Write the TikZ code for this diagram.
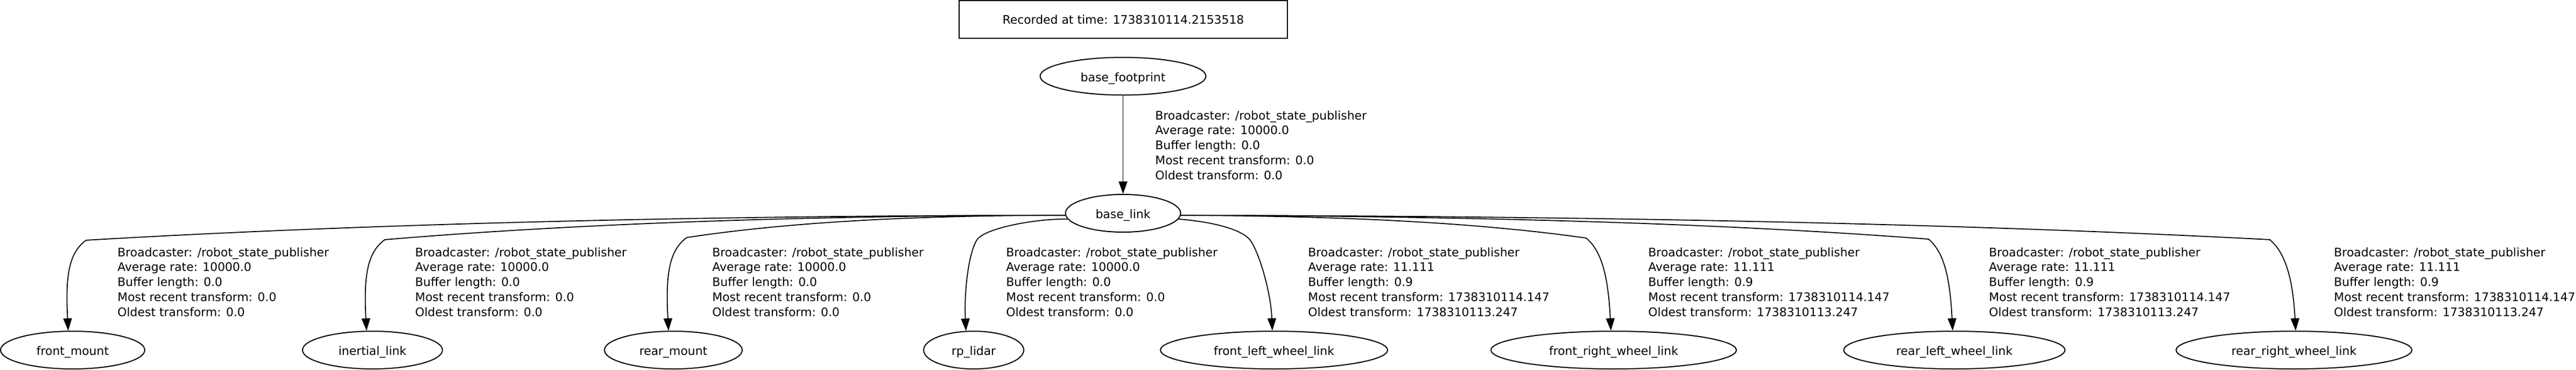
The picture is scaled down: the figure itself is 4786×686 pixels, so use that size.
\documentclass[tikz,border=0pt]{standalone}
\usepackage{fontspec}
\setmainfont{DejaVu Sans}
\usetikzlibrary{shapes}
\usetikzlibrary{arrows.meta}
\tikzset{
	node_tf/.style = {
		ellipse,
		draw=black,
		line width=1pt,
		inner sep=0pt,
		minimum height=35pt,
		text height=10.5pt,
		text depth=1pt
	},
	node_stamp/.style = {
		rectangle,
		draw=black,
		line width=1pt,
		inner sep=0pt,
		minimum width=305pt,
		minimum height=35pt,
		text height=9.3pt,
		text depth=1pt
	},
	node_info/.style = {
		align=left,
		inner sep=0pt,
		anchor=base west
	},
	edge_tf/.style = {
		->,
		line width=0.9pt
	},
}

\begin{document}
\begin{tikzpicture}[x=0.5pt, y=-0.5pt, >={Triangle[length=11.5pt,width=8pt]}, font=\fontsize{10.95pt}{13.85pt}\selectfont]
\useasboundingbox (0,0) rectangle (4786,686);

\node [node_stamp] (stamp) at (2087,36) {Recorded at time: 1738310114.2153518};

\node [node_tf, minimum width=154pt] (footprint) at (2086.5,141.5) {base\_footprint};
\node [node_tf, minimum width=107pt] (base) at (2086.5,396) {base\_link};

\node [node_tf, minimum width=134pt] (front_mount) at (135,650) {front\_mount};
\node [node_tf, minimum width=130pt] (inertial_link) at (692,650) {inertial\_link};
\node [node_tf, minimum width=128pt] (rear_mount) at (1251,650) {rear\_mount};
\node [node_tf, minimum width=93pt] (rp_lidar) at (1809,650) {rp\_lidar};
\node [node_tf, minimum width=211pt] (front_left) at (2367,650) {front\_left\_wheel\_link};
\node [node_tf, minimum width=228pt] (front_right) at (2998,650) {front\_right\_wheel\_link};
\node [node_tf, minimum width=205.5pt] (rear_left) at (3631,650) {rear\_left\_wheel\_link};
\node [node_tf, minimum width=219pt] (rear_right) at (4262,650) {rear\_right\_wheel\_link};

% transforms
\draw [edge_tf] (footprint.south) -- (base.north);
\draw [edge_tf] (base.182) .. controls (1344,400) and (706,414) .. (160,446)
	.. controls (125,471) and (122,521) .. (front_mount.103);
\draw [edge_tf] (base.182) .. controls (1538,400) and (1095,413) .. (715,445)
	.. controls (680,470) and (676,520) .. (inertial_link.107);
\draw [edge_tf] (base.182) .. controls (1734,400) and (1488,409) .. (1276,441)
	.. controls (1241,466) and (1237,516) .. (rear_mount.104);
\draw [edge_tf] (base.186) .. controls (1920,406) and (1832,424) .. (1816,444)
	.. controls (1800,466) and (1791,540) .. (rp_lidar.112);
\draw [edge_tf] (base.-6) .. controls (2255,412) and (2306,426) .. (2322,445)
	.. controls (2338,465) and (2361,540) .. (front_left.95);
\draw [edge_tf] (base.-2) .. controls (2458,401) and (2721,410) .. (2947,442)
	.. controls (2977,467) and (2988,517) .. (front_right.98);
\draw [edge_tf] (base.-2) .. controls (2680,401) and (3166,412) .. (3583,444)
	.. controls (3613,469) and (3623,519) .. (rear_left.95);
\draw [edge_tf] (base.-2) .. controls (2902,401) and (3610,413) .. (4217,445)
	.. controls (4247,470) and (4260,520) .. (rear_right.85);

% edge labels (anchored on the last line)
\node [node_info] (info_base) at (2146,333) {Broadcaster: /robot\_state\_publisher\\Average rate: 10000.0\\Buffer length: 0.0\\Most recent transform: 0.0\\Oldest transform: 0.0};
\node [node_info] (info_front_mount) at (218,587) {Broadcaster: /robot\_state\_publisher\\Average rate: 10000.0\\Buffer length: 0.0\\Most recent transform: 0.0\\Oldest transform: 0.0};
\node [node_info] (info_inertial_link) at (771,587) {Broadcaster: /robot\_state\_publisher\\Average rate: 10000.0\\Buffer length: 0.0\\Most recent transform: 0.0\\Oldest transform: 0.0};
\node [node_info] (info_rear_mount) at (1323,587) {Broadcaster: /robot\_state\_publisher\\Average rate: 10000.0\\Buffer length: 0.0\\Most recent transform: 0.0\\Oldest transform: 0.0};
\node [node_info] (info_rp_lidar) at (1869,587) {Broadcaster: /robot\_state\_publisher\\Average rate: 10000.0\\Buffer length: 0.0\\Most recent transform: 0.0\\Oldest transform: 0.0};
\node [node_info] (info_front_left) at (2430,587) {Broadcaster: /robot\_state\_publisher\\Average rate: 11.111\\Buffer length: 0.9\\Most recent transform: 1738310114.147\\Oldest transform: 1738310113.247};
\node [node_info] (info_front_right) at (3062,587) {Broadcaster: /robot\_state\_publisher\\Average rate: 11.111\\Buffer length: 0.9\\Most recent transform: 1738310114.147\\Oldest transform: 1738310113.247};
\node [node_info] (info_rear_left) at (3695,587) {Broadcaster: /robot\_state\_publisher\\Average rate: 11.111\\Buffer length: 0.9\\Most recent transform: 1738310114.147\\Oldest transform: 1738310113.247};
\node [node_info] (info_rear_right) at (4336,587) {Broadcaster: /robot\_state\_publisher\\Average rate: 11.111\\Buffer length: 0.9\\Most recent transform: 1738310114.147\\Oldest transform: 1738310113.247};
\end{tikzpicture}
\end{document}
